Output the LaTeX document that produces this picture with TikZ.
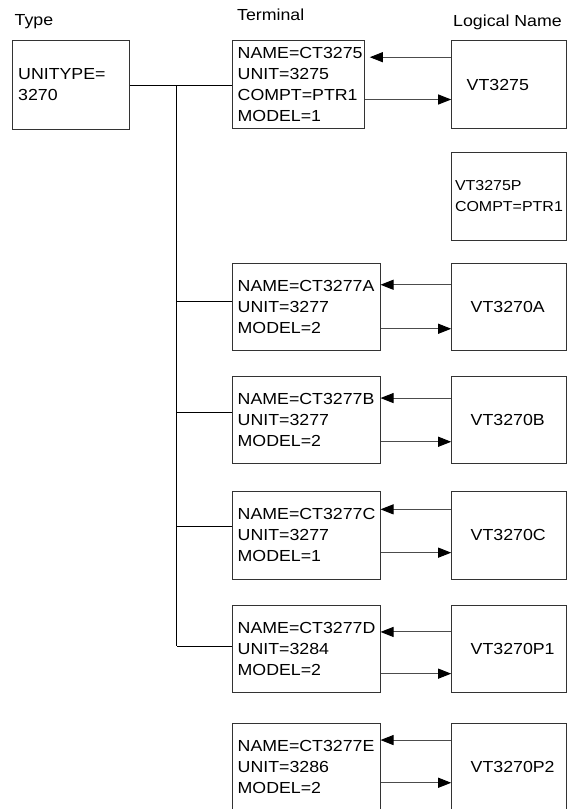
\documentclass[tikz,border=0pt]{standalone}
\usepackage{fontspec}
\setmainfont{Liberation Sans}[FakeStretch=1.11]
\usetikzlibrary{positioning, arrows.meta}

\begin{document}
\begin{tikzpicture}[
  x=1pt, y=-1pt,
  body/.style={font=\fontsize{16pt}{21pt}\selectfont},
  hdr/.style={body, inner sep=0pt, anchor=base west},
  box/.style={draw=black!80, line width=1pt, body, align=left, inner ysep=0pt,
              minimum height=87.5pt},
  typebox/.style={box, text width=105.6pt, inner xsep=5.5pt, minimum height=88.6pt},
  termbox/.style={box, text width=#1, inner xsep=5pt},
  termbox/.default=137.3pt,
  lnbox/.style={box, text width=77pt, inner xsep=19pt},
  arr/.style={-{Triangle[length=13pt, width=10pt, black]}, draw=black!70, line width=1pt},
  wire/.style={draw=black, line width=1pt}
]
\useasboundingbox (0,0) rectangle (569,809);

% Headers
\node[hdr] (hType) at (14.5,25.5) {Type};
\node[hdr] (hTerm) at (237,20.7) {Terminal};
\node[hdr] (hName) at (453,26) {Logical Name};

% Type
\node[typebox] (type) at (71,85) {UNITYPE=\\3270};

% Terminals
\node[termbox=121.6pt, minimum height=88pt] (t1) at (298.5,84.7) {NAME=CT3275\\UNIT=3275\\COMPT=PTR1\\MODEL=1};
\node[termbox] (tA) at (306.35,307) {NAME=CT3277A\\UNIT=3277\\MODEL=2};
\node[termbox] (tB) at (306.35,420) {NAME=CT3277B\\UNIT=3277\\MODEL=2};
\node[termbox] (tC) at (306.35,535.3) {NAME=CT3277C\\UNIT=3277\\MODEL=1};
\node[termbox] (tD) at (306.35,648.9) {NAME=CT3277D\\UNIT=3284\\MODEL=2};
\node[termbox] (tE) at (306.35,767) {NAME=CT3277E\\UNIT=3286\\MODEL=2};

% Logical names
\node[lnbox, inner xsep=15pt, text width=85pt, minimum height=88pt] (v1) at (509.2,84.7) {VT3275};
\node[lnbox, inner xsep=3.3pt, text width=108.4pt, font=\fontsize{14.4pt}{21pt}\selectfont,
      below=23pt of v1] (v1p) {VT3275P\\COMPT=PTR1};
\node[lnbox] (vA) at (509.2,307) {VT3270A};
\node[lnbox] (vB) at (509.2,420) {VT3270B};
\node[lnbox] (vC) at (509.2,535.3) {VT3270C};
\node[lnbox] (vD) at (509.2,648.9) {VT3270P1};
\node[lnbox] (vE) at (509.2,767) {VT3270P2};

% Arrows
\draw[arr, shorten >=5pt] ([yshift=-17pt]v1.north west) -- ([yshift=-17pt]v1.north west -| t1.east);
\draw[arr] ([yshift=-59.3pt]t1.north east) -- ([yshift=-59.3pt]t1.north east -| v1.west);
\foreach \r/\u/\l in {A/22/66, B/22.3/66, C/18.3/61.6, D/27.3/69, E/17.3/60} {
  \draw[arr] ([yshift=-\u pt]v\r.north west) -- ([yshift=-\u pt]v\r.north west -| t\r.east);
  \draw[arr] ([yshift=-\l pt]t\r.north east) -- ([yshift=-\l pt]t\r.north east -| v\r.west);
}

% Tree
\coordinate (jn) at (176.7,85);
\draw[wire] (type.east) -- (type.east -| t1.west);
\foreach \r/\d in {A/38.7, B/36.6, C/35.3, D/41.7}
  \draw[wire] ([yshift=-\d pt]t\r.north west) -- ([yshift=-\d pt]t\r.north west -| jn);
\draw[wire] (jn) -- ([yshift=-41.7pt]tD.north west -| jn);

\end{tikzpicture}
\end{document}
